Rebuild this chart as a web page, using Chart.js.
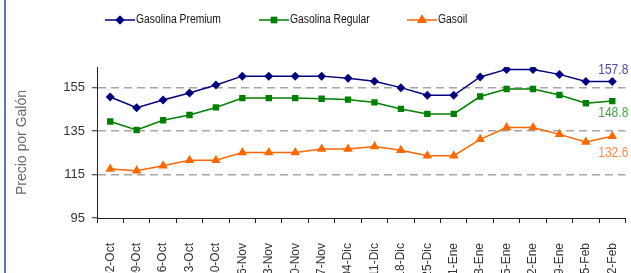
<!DOCTYPE html>
<html>
<head>
<meta charset="utf-8">
<title>Precio por Galón</title>
<script src="https://cdn.jsdelivr.net/npm/chart.js"></script>
<style>
  html, body { margin: 0; padding: 0; background: #fff; overflow: hidden; }
  #wrap { position: relative; width: 631px; height: 273px; overflow: hidden; }
  #edge { position: absolute; left: 4px; top: 0; width: 2px; height: 273px; background: #5a7aa6; z-index: 2; }
  #box { position: absolute; left: 0; top: 0; width: 631px; height: 310px; }
</style>
</head>
<body>
<div id="wrap">
  <div id="edge"></div>
  <div id="box"><canvas id="chart"></canvas></div>
</div>
<script>
// weekly dates
const weeks = ['02-Oct', '09-Oct', '16-Oct', '23-Oct', '30-Oct', '06-Nov', '13-Nov', '20-Nov', '27-Nov',
  '04-Dic', '11-Dic', '18-Dic', '25-Dic', '01-Ene', '08-Ene', '15-Ene', '22-Ene', '29-Ene', '05-Feb', '12-Feb'];

const premium = [150.7, 145.8, 149.3, 152.5, 156.2, 160.3, 160.3, 160.3, 160.3, 159.3,
  157.9, 155.0, 151.5, 151.5, 159.9, 163.4, 163.4, 161.1, 157.8, 157.8];
const regular = [139.4, 135.5, 140.0, 142.4, 145.9, 150.2, 150.2, 150.2, 149.9, 149.5,
  148.2, 145.2, 142.9, 142.9, 150.9, 154.4, 154.4, 151.6, 147.8, 148.8];
const gasoil = [117.6, 116.7, 119.0, 121.6, 121.6, 125.1, 125.1, 125.1, 126.8, 126.8,
  127.9, 126.2, 123.7, 123.7, 131.2, 136.6, 136.6, 133.5, 130.0, 132.6];

const yTicks = [95, 115, 135, 155];
const seriesNames = ['Gasolina Premium', 'Gasolina Regular', 'Gasoil'];

const lineColors = ['#000080', '#008000', '#ff6600'];
const labelColors = ['#4b4bb0', '#45a845', '#ff8a4a'];
const markers = ['rectRot', 'rect', 'triangle'];
const markerSize = [4.5, 4.5, 5.5];

// the original uses a narrow face; squeeze regular text horizontally
function narrowText(ctx, text, x, y, squeeze) {
  ctx.save();
  ctx.translate(x, y);
  ctx.scale(squeeze, 1);
  ctx.fillText(text, 0, 0);
  ctx.restore();
}

// legend: line + marker + text, drawn at the top
const legendPos = [105, 259, 407];
const legendLine = {
  id: 'legendLine',
  afterDraw(chart) {
    const ctx = chart.ctx;
    ctx.save();
    chart.data.datasets.forEach((ds, i) => {
      const x = legendPos[i], y = 20;
      ctx.strokeStyle = ds.borderColor;
      ctx.lineWidth = 1.5;
      ctx.beginPath();
      ctx.moveTo(x, y);
      ctx.lineTo(x + 30, y);
      ctx.stroke();
      ctx.fillStyle = ds.borderColor;
      Chart.helpers.drawPoint(ctx, {pointStyle: ds.pointStyle, radius: ds.pointRadius, borderWidth: 0}, x + 15, y);
      ctx.fill();
      ctx.fillStyle = '#111';
      ctx.font = '12px "Liberation Sans", Arial, sans-serif';
      ctx.textAlign = 'left';
      ctx.textBaseline = 'middle';
      narrowText(ctx, ds.label, x + 31, y, 0.86);
    });
    ctx.restore();
  }
};

// value of the last week next to each line
const labelOffsets = [-11, 12, 17];
const lastValues = {
  id: 'lastValues',
  afterDatasetsDraw(chart) {
    const ctx = chart.ctx;
    ctx.save();
    ctx.font = '14px "Liberation Sans", Arial, sans-serif';
    ctx.textAlign = 'center';
    ctx.textBaseline = 'middle';
    chart.data.datasets.forEach((ds, i) => {
      const pts = chart.getDatasetMeta(i).data;
      const p = pts[pts.length - 1];
      ctx.fillStyle = labelColors[i];
      narrowText(ctx, ds.data[ds.data.length - 1].toFixed(1), p.x + 1, p.y + labelOffsets[i], 0.86);
    });
    ctx.restore();
  }
};

const series = [premium, regular, gasoil];

new Chart(document.getElementById('chart'), {
  type: 'line',
  data: {
    labels: weeks,
    datasets: series.map((d, i) => ({
      label: seriesNames[i],
      data: d,
      borderColor: lineColors[i],
      backgroundColor: lineColors[i],
      borderWidth: 1.5,
      pointStyle: markers[i],
      pointRadius: markerSize[i],
      pointBorderWidth: 0,
      tension: 0
    }))
  },
  options: {
    responsive: true,
    maintainAspectRatio: false,
    animation: false,
    events: [],
    layout: { padding: { left: 8, top: 67, right: 3, bottom: 0 } },
    plugins: { legend: { display: false }, tooltip: { enabled: false } },
    scales: {
      x: {
        offset: true,
        grid: { offset: true, drawOnChartArea: false, tickLength: 5, color: '#222' },
        border: { color: '#222', width: 1 },
        ticks: {
          color: '#333', padding: 20, minRotation: 90, maxRotation: 90, autoSkip: false,
          font: { family: '"Liberation Sans", Arial, sans-serif', size: 12 }
        },
        afterFit(s) {
          s.height = 92;
          s.paddingLeft = 0;
          s.paddingRight = 0;
        }
      },
      y: {
        min: 95,
        max: 164.5,
        afterBuildTicks(s) { s.ticks = yTicks.map(v => ({ value: v })); },
        grid: {
          color: ctx => ctx.tick && ctx.tick.value === 95 ? 'rgba(0,0,0,0)' : '#a6a6a6',
          lineWidth: 1.5,
          tickLength: 5,
          tickColor: '#222',
          tickWidth: 1,
          tickBorderDash: []
        },
        border: { color: '#222', width: 1, dash: [8, 5] },
        ticks: {
          color: '#333', padding: 7,
          font: { family: '"Liberation Sans", Arial, sans-serif', size: 13 }
        },
        title: {
          display: true,
          text: 'Precio por Galón',
          color: '#666',
          padding: { top: 6, bottom: 0 },
          font: { family: '"Liberation Sans", Arial, sans-serif', size: 14 }
        },
        afterFit(s) {
          s.width = 89;
          s.paddingTop = 0;
          s.paddingBottom = 0;
        }
      }
    }
  },
  plugins: [legendLine, lastValues]
});
</script>
</body>
</html>
